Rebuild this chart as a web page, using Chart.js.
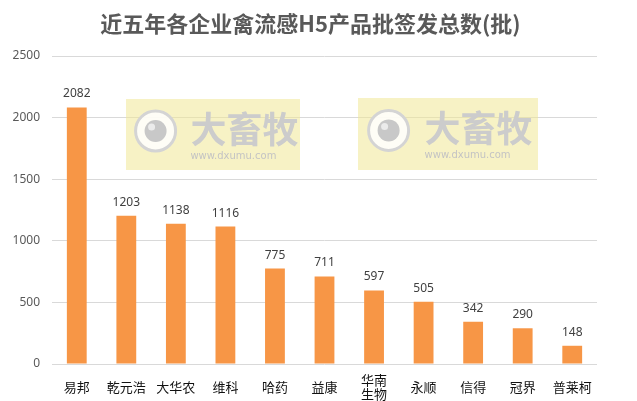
<!DOCTYPE html>
<html>
<head>
<meta charset="utf-8">
<script src="https://cdn.jsdelivr.net/npm/chart.js@4"></script>
<style>
  html, body { margin: 0; padding: 0; background: #fff; }
  #wrap { width: 637px; height: 401px; }
</style>
</head>
<body>
<div id="wrap"><canvas id="barChart" width="637" height="401"></canvas></div>
<script>
const titleText = "近五年各企业禽流感H5产品批签发总数(批)";
const companies = ["易邦", "乾元浩", "大华农", "维科", "哈药", "益康", ["华南", "生物"], "永顺", "信得", "冠界", "普莱柯"];
const batches = [2082, 1203, 1138, 1116, 775, 711, 597, 505, 342, 290, 148];
const yTicks = [0, 500, 1000, 1500, 2000, 2500];

// value labels above each bar
const valueLabels = {
  id: "valueLabels",
  afterDatasetsDraw(chart) {
    const ctx = chart.ctx;
    const meta = chart.getDatasetMeta(0);
    ctx.save();
    ctx.font = "12px 'Noto Sans', sans-serif";
    ctx.fillStyle = "#404040";
    ctx.textAlign = "center";
    ctx.textBaseline = "alphabetic";
    meta.data.forEach((bar, i) => {
      ctx.fillText(String(batches[i]), bar.x, bar.y - 10);
    });
    ctx.restore();
  }
};

// title centred on the whole picture, not on the padded box
const pageTitle = {
  id: "pageTitle",
  afterDraw(chart) {
    const ctx = chart.ctx;
    ctx.save();
    ctx.font = "bold 22px 'Noto Sans CJK SC', sans-serif";
    ctx.fillStyle = "#595959";
    ctx.textAlign = "center";
    ctx.textBaseline = "middle";
    ctx.fillText(titleText, chart.width / 2 - 8, 24);
    ctx.restore();
  }
};

// the two "大畜牧" watermarks
const watermark = {
  id: "watermark",
  beforeDatasetsDraw(chart) {
    const ctx = chart.ctx;
    const boxes = [[126, 99, 174, 71], [358, 98, 180, 72]];
    ctx.save();
    boxes.forEach(([x, y, w, h]) => {
      ctx.fillStyle = "rgba(240, 232, 150, 0.55)";
      ctx.fillRect(x, y, w, h);
      // logo circle
      const cx = x + w * 0.17, cy = y + h * 0.45;
      ctx.fillStyle = "rgba(255,255,255,0.85)";
      ctx.beginPath(); ctx.arc(cx, cy, 20, 0, Math.PI * 2); ctx.fill();
      ctx.strokeStyle = "#d4d4d4"; ctx.lineWidth = 3;
      ctx.beginPath(); ctx.arc(cx, cy, 20, 0, Math.PI * 2); ctx.stroke();
      ctx.fillStyle = "#c8c8c8";
      ctx.beginPath(); ctx.arc(cx, cy, 11, 0, Math.PI * 2); ctx.fill();
      ctx.fillStyle = "#ebebeb";
      ctx.beginPath(); ctx.arc(cx - 4, cy - 4, 3.5, 0, Math.PI * 2); ctx.fill();
      // brand text
      ctx.fillStyle = "#cccccc";
      ctx.textAlign = "left";
      ctx.textBaseline = "alphabetic";
      ctx.font = "bold 36px 'Noto Sans CJK SC', sans-serif";
      ctx.fillText("大畜牧", x + w * 0.37, cy + 12);
      ctx.font = "10px 'DejaVu Sans', sans-serif";
      ctx.fillStyle = "#c4c4c4";
      ctx.fillText("www.dxumu.com", x + w * 0.37, cy + 28);
    });
    ctx.restore();
  }
};

new Chart(document.getElementById("barChart"), {
  type: "bar",
  data: {
    labels: companies,
    datasets: [{
      label: "批签发总数",
      data: batches,
      backgroundColor: "#F79646",
      barPercentage: 0.8,
      categoryPercentage: 0.5
    }]
  },
  options: {
    responsive: false,
    animation: false,
    layout: { padding: { left: 0, right: 40, top: 56, bottom: 0 } },
    plugins: {
      legend: { display: false },
      tooltip: { enabled: false },
      title: { display: false }
    },
    scales: {
      x: {
        grid: { display: false },
        border: { display: false },
        afterFit(axis) { axis.height = 37; },
        ticks: {
          color: "#111",
          font: { family: "'Noto Sans CJK SC', sans-serif", size: 13, lineHeight: 1.05 },
          crossAlign: "center",
          maxRotation: 0,
          autoSkip: false,
          padding: 8
        }
      },
      y: {
        min: 0,
        max: 2500,
        afterBuildTicks(axis) { axis.ticks = yTicks.map(v => ({ value: v })); },
        afterFit(axis) { axis.width = 52; },
        grid: { color: "#d9d9d9", drawTicks: false },
        border: { display: false },
        ticks: {
          color: "#595959",
          font: { family: "'Noto Sans', sans-serif", size: 12 },
          padding: 12,
          callback: v => String(v)
        }
      }
    }
  },
  plugins: [watermark, valueLabels, pageTitle]
});
</script>
</body>
</html>
